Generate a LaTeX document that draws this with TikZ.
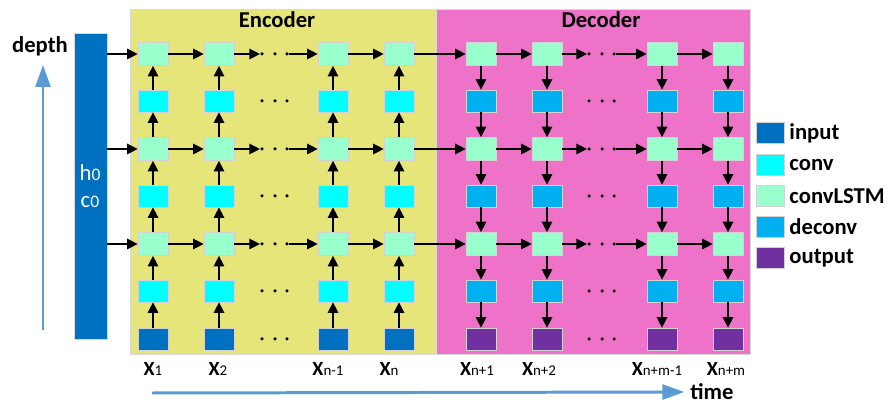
\documentclass[tikz,border=0pt]{standalone}
\usepackage{fontspec}
\setmainfont{Carlito}
\usetikzlibrary{arrows.meta, calc, positioning}
\definecolor{encbg}{HTML}{E5E57A}
\definecolor{decbg}{HTML}{EE72C8}
\definecolor{lstmcol}{HTML}{99FFCC}
\definecolor{convcol}{HTML}{00FFFF}
\definecolor{deconvcol}{HTML}{00B0F0}
\definecolor{incol}{HTML}{0070C0}
\definecolor{outcol}{HTML}{7030A0}
\definecolor{axiscol}{HTML}{5B9BD5}
\newcommand{\xlab}[1]{{\bfseries X}{\fontsize{8.5}{9}\selectfont #1}}

\tikzset{
  cell/.style={draw=gray!35, line width=0.4pt, minimum width=0.6cm, minimum height=0.44cm, inner sep=0pt},
  lstm/.style={cell, fill=lstmcol, minimum height=0.46cm},
  conv/.style={cell, fill=convcol},
  deconv/.style={cell, fill=deconvcol},
  inbox/.style={cell, fill=incol},
  outbox/.style={cell, fill=outcol},
  chaindot/.style={circle, fill=black, inner sep=0pt, minimum size=0.07cm},
  flow/.style={-{Triangle[length=6pt,width=6pt]}, line width=0.75pt},
  axisarrow/.style={-{Triangle[length=12.5pt,width=8.5pt]}, line width=1.7pt, axiscol},
  title/.style={font=\fontsize{12.9}{14}\selectfont\bfseries},
  keytext/.style={font=\fontsize{12.9}{14}\selectfont\bfseries, inner sep=1pt},
  xlabel/.style={font=\fontsize{11.4}{12}\selectfont, anchor=base},
  statetext/.style={text=white, font=\fontsize{13}{14}\selectfont},
}

\begin{document}
\begin{tikzpicture}[x=0.02cm, y=-0.02cm]
\useasboundingbox (0,0) rectangle (889,404);

% panels
\filldraw[fill=encbg, draw=gray!30] (130,9) rectangle (436,354);
\filldraw[fill=decbg, draw=gray!30] (436,9) rectangle (750,354);
\node[title] (enc) at (277,20) {Encoder};
\node[title] (dec) at (601,20) {Decoder};

% initial state
\node[fill=incol, draw=gray!30, minimum width=0.66cm, minimum height=6.12cm, inner sep=0pt] (bar) at (90.5,186) {};
\node[statetext] (h0) at (90,173) {h{\fontsize{10}{11}\selectfont 0}};
\node[statetext] (c0) at (90,202) {c{\fontsize{10}{11}\selectfont 0}};

% depth / time
\node[title] (depth) at (40,46) {depth};
\coordinate (dbot) at (43,330);
\coordinate (dtop) at (43,65);
\draw[axisarrow] (dbot) -- (dtop);
\node[title] (time) at (712,392) {time};
\coordinate (tstart) at (152,393);
\draw[axisarrow] (tstart) -- (time.west);

% encoder
\foreach \c/\x in {1/153, 2/219, 3/333, 4/399} {
  \node[lstm] (c\c-1) at (\x,54) {};
  \node[conv] (c\c-2) at (\x,101) {};
  \node[lstm] (c\c-3) at (\x,149) {};
  \node[conv] (c\c-4) at (\x,196) {};
  \node[lstm] (c\c-5) at (\x,244) {};
  \node[conv] (c\c-6) at (\x,291) {};
  \node[inbox] (c\c-7) at (\x,339) {};
  \foreach \a/\b in {7/6, 6/5, 5/4, 4/3, 3/2, 2/1}
    \draw[flow] (c\c-\a) -- (c\c-\b);
}

% decoder
\foreach \c/\x in {5/481, 6/547, 7/662, 8/728} {
  \node[lstm] (c\c-1) at (\x,54) {};
  \node[deconv] (c\c-2) at (\x,101) {};
  \node[lstm] (c\c-3) at (\x,149) {};
  \node[deconv] (c\c-4) at (\x,196) {};
  \node[lstm] (c\c-5) at (\x,244) {};
  \node[deconv] (c\c-6) at (\x,291) {};
  \node[outbox] (c\c-7) at (\x,339) {};
  \foreach \a/\b in {1/2, 2/3, 3/4, 4/5, 5/6, 6/7}
    \draw[flow] (c\c-\a) -- (c\c-\b);
}

% dots
\foreach \r/\y in {1/54, 2/101, 3/149, 4/196, 5/244, 6/291, 7/339} {
  \node[chaindot] (l\r-1) at (262,\y) {};
  \node[chaindot] (l\r-2) at (275,\y) {};
  \node[chaindot] (l\r-3) at (287,\y) {};
  \node[chaindot] (r\r-1) at (589,\y) {};
  \node[chaindot] (r\r-2) at (602,\y) {};
  \node[chaindot] (r\r-3) at (614,\y) {};
}

% time steps
\foreach \r in {1, 3, 5} {
  \draw
  (bar.east |- c1-\r) edge[flow] (c1-\r)
  (c1-\r) edge[flow] (c2-\r)
  (c2-\r) edge[flow] (l\r-1)
  (l\r-3) edge[flow] (c3-\r)
  (c3-\r) edge[flow] (c4-\r)
  (c4-\r) edge[flow] (c5-\r)
  (c5-\r) edge[flow] (c6-\r)
  (c6-\r) edge[flow] (r\r-1)
  (r\r-3) edge[flow] (c7-\r)
  (c7-\r) edge[flow] (c8-\r);
}

% labels
\foreach \n/\x/\s in {1/153/1, 2/218/2, 3/328/n-1, 4/389/n, 5/477/n+1, 6/539/n+2, 7/657/n+m-1, 8/726/n+m}
  \node[xlabel] (x\n) at (\x,376) {\xlab{\s}};

% legend
\foreach \n/\y/\s/\t in {1/133/inbox/input, 2/165/conv/conv, 3/196/lstm/convLSTM, 4/227/deconv/deconv, 5/258/outbox/output} {
  \node[\s, minimum width=0.56cm, minimum height=0.42cm] (key\n) at (770,\y) {};
  \node[keytext, right=0.06cm of key\n] (lab\n) {\t};
}
\end{tikzpicture}
\end{document}
